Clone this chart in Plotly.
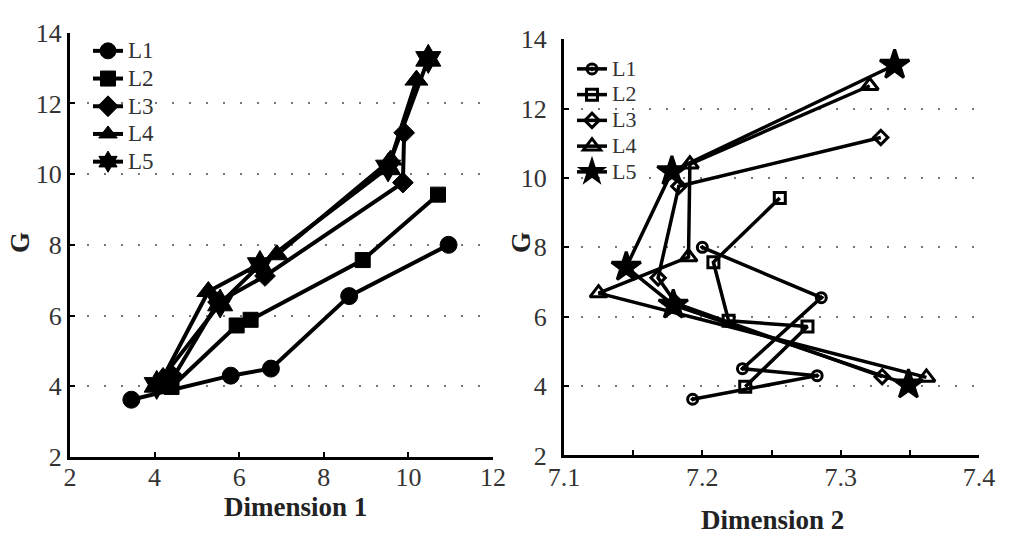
import plotly.graph_objects as go

# ---- data (G shared, Dimension 1 / Dimension 2 coordinates) ----
names = ["L1", "L2", "L3", "L4", "L5"]
G_L1 = [3.62, 4.30, 4.50, 6.55, 8.00]
D1_L1 = [3.45, 5.80, 6.75, 8.60, 10.95]
D2_L1 = [7.193, 7.283, 7.229, 7.286, 7.200]

G_L2 = [3.98, 5.72, 5.88, 7.57, 9.42]
D1_L2 = [4.40, 5.94, 6.27, 8.92, 10.70]
D2_L2 = [7.231, 7.276, 7.219, 7.208, 7.256]

G_L3 = [4.27, 6.38, 7.12, 9.76, 11.17]
D1_L3 = [4.45, 5.50, 6.61, 9.87, 9.90]
D2_L3 = [7.330, 7.181, 7.168, 7.183, 7.329]

G_L4 = [4.25, 6.68, 7.72, 10.40, 12.66]
D1_L4 = [4.20, 5.27, 6.89, 9.58, 10.19]
D2_L4 = [7.362, 7.125, 7.190, 7.191, 7.321]

G_L5 = [4.04, 6.34, 7.43, 10.19, 13.26]
D1_L5 = [4.05, 5.55, 6.49, 9.52, 10.47]
D2_L5 = [7.349, 7.179, 7.145, 7.178, 7.339]

x1_ticks = [2, 4, 6, 8, 10, 12]
x2_ticks = [7.1, 7.15, 7.2, 7.25, 7.3, 7.35, 7.4]
x2_text = ["7.1", "", "7.2", "", "7.3", "", "7.4"]
y_ticks = [2, 4, 6, 8, 10, 12, 14]

G_all = [G_L1, G_L2, G_L3, G_L4, G_L5]
D1_all = [D1_L1, D1_L2, D1_L3, D1_L4, D1_L5]
D2_all = [D2_L1, D2_L2, D2_L3, D2_L4, D2_L5]

sym_left = ["circle", "square", "diamond", "triangle-up", "hexagram"]
size_left = [17, 15, 16, 20, 22]
sym_right = ["circle-open-dot", "square-open", "diamond-open", "triangle-up-open", "star"]
size_right = [10, 11, 11, 15, 22]

FONT = "Liberation Serif"


def legend_label(n, px):
    return f"<span style='font-size:{px}px'>{n}</span>"


fig = go.Figure()
for i, n in enumerate(names):
    fig.add_trace(go.Scatter(
        x=D1_all[i], y=G_all[i], name=legend_label(n, 23), mode="lines+markers",
        line=dict(color="black", width=4),
        marker=dict(symbol=sym_left[i], size=size_left[i], color="black",
                    line=dict(color="black", width=1)),
        xaxis="x", yaxis="y", legend="legend"))
for i, n in enumerate(names):
    fig.add_trace(go.Scatter(
        x=D2_all[i], y=G_all[i], name=legend_label(n, 22), mode="lines+markers",
        line=dict(color="black", width=3.5),
        marker=dict(symbol=sym_right[i], size=size_right[i], color="black",
                    line=dict(color="black", width=3)),
        xaxis="x2", yaxis="y2", legend="legend2"))

W, H = 1013, 540
axis_common = dict(showline=True, linecolor="black", linewidth=3, ticks="inside",
                   ticklen=5, tickwidth=1.5, tickcolor="black", zeroline=False,
                   automargin=False,
                   tickfont=dict(family=FONT, size=26, color="#333"))

fig.update_layout(
    width=W, height=H, margin=dict(l=0, r=0, t=0, b=0, pad=0, autoexpand=False),
    paper_bgcolor="white", plot_bgcolor="white",
    font=dict(family=FONT),
    xaxis=dict(domain=[70 / W, 493 / W], range=[2, 12], tickvals=x1_ticks,
               showgrid=False, anchor="y", ticklabelstandoff=-5, **axis_common),
    yaxis=dict(domain=[1 - 457 / H, 1 - 32.7 / H], range=[2, 14], tickvals=y_ticks,
               showgrid=True, gridcolor="#777", gridwidth=2, griddash="2px,15px",
               anchor="x", **axis_common),
    xaxis2=dict(domain=[564 / W, 979 / W], range=[7.1, 7.4], tickvals=x2_ticks,
                ticktext=x2_text, showgrid=False, anchor="y2", ticklabelstandoff=-4,
                **axis_common),
    yaxis2=dict(domain=[1 - 455.4 / H, 1 - 39.3 / H], range=[2, 14], tickvals=y_ticks,
                showgrid=True, gridcolor="#777", gridwidth=2, griddash="2px,15px",
                anchor="x2", ticklabelstandoff=9, **axis_common),
    legend=dict(x=88 / W, y=1 - 32 / H, xanchor="left", yanchor="top",
                bgcolor="rgba(0,0,0,0)", font=dict(family=FONT, size=19, color="#333"),
                tracegroupgap=0),
    legend2=dict(x=572 / W, y=1 - 51 / H, xanchor="left", yanchor="top",
                 bgcolor="rgba(0,0,0,0)", font=dict(family=FONT, size=17.5, color="#333"),
                 tracegroupgap=0),
    annotations=[
        dict(text="<b>Dimension 1</b>", x=295 / W, y=1 - 507 / H, xref="paper", yref="paper",
             xanchor="center", yanchor="middle",
             showarrow=False, font=dict(family=FONT, size=27, color="#222")),
        dict(text="<b>Dimension 2</b>", x=772 / W, y=1 - 520 / H, xref="paper", yref="paper",
             xanchor="center", yanchor="middle",
             showarrow=False, font=dict(family=FONT, size=27, color="#222")),
        dict(text="<b>G</b>", x=20 / W, y=1 - 243 / H, xref="paper", yref="paper",
             xanchor="center", yanchor="middle",
             showarrow=False, textangle=-90, font=dict(family=FONT, size=27, color="#222")),
        dict(text="<b>G</b>", x=521 / W, y=1 - 243 / H, xref="paper", yref="paper",
             xanchor="center", yanchor="middle",
             showarrow=False, textangle=-90, font=dict(family=FONT, size=27, color="#222")),
    ],
    showlegend=True,
)

fig.write_html("out.html")
